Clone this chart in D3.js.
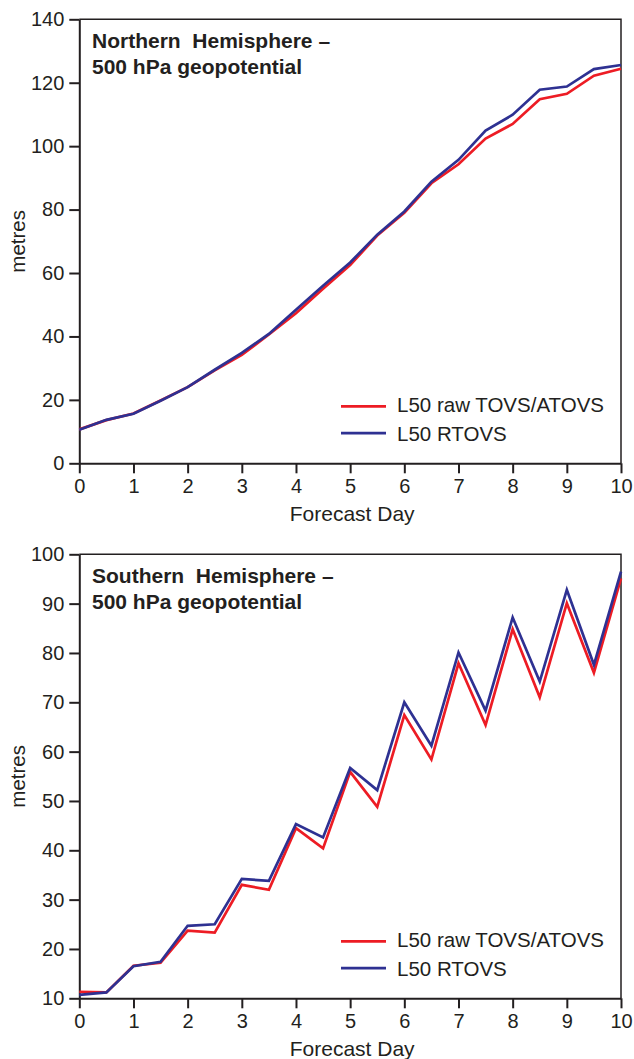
<!DOCTYPE html>
<html>
<head>
<meta charset="utf-8">
<script src="https://cdnjs.cloudflare.com/ajax/libs/d3/7.8.5/d3.min.js"></script>
<style>
  html, body { margin: 0; padding: 0; background: #fff; }
  svg { display: block; font-family: "Liberation Sans", Arial, Helvetica, sans-serif; }
  .axis text { font-size: 20px; fill: #231f20; }
  .axis path, .axis line { stroke: #231f20; stroke-width: 2px; }
  .title { white-space: pre; }
</style>
</head>
<body>
<svg id="chart" width="634" height="1059"></svg>
<script>
// forecast days, every 12 hours
var days = [0, 0.5, 1, 1.5, 2, 2.5, 3, 3.5, 4, 4.5, 5, 5.5, 6, 6.5, 7, 7.5, 8, 8.5, 9, 9.5, 10];
var dayTicks = [0, 1, 2, 3, 4, 5, 6, 7, 8, 9, 10];

// Northern Hemisphere 500 hPa geopotential (metres)
var nhRaw   = [10.7, 13.6, 15.7, 19.8, 24.0, 29.3, 34.2, 40.6, 47.3, 55.0, 62.5, 71.8, 79.0, 88.3, 94.3, 102.4, 107.0, 114.8, 116.5, 122.2, 124.4];
var nhRtovs = [10.6, 13.7, 15.6, 19.7, 24.0, 29.5, 34.8, 40.8, 48.4, 56.0, 63.3, 72.1, 79.4, 88.8, 95.7, 104.9, 109.9, 117.8, 118.8, 124.3, 125.6];
var nhTicks = [0, 20, 40, 60, 80, 100, 120, 140];

// Southern Hemisphere 500 hPa geopotential (metres)
var shRaw   = [11.3, 11.2, 16.6, 17.2, 23.7, 23.3, 33.0, 32.0, 44.5, 40.4, 55.9, 48.8, 67.4, 58.4, 77.9, 65.4, 84.8, 71.0, 90.1, 76.0, 95.1];
var shRtovs = [10.7, 11.2, 16.5, 17.4, 24.7, 25.0, 34.2, 33.8, 45.3, 42.6, 56.7, 52.2, 70.0, 61.2, 80.1, 68.3, 87.2, 74.2, 92.8, 77.6, 96.5];
var shTicks = [10, 20, 30, 40, 50, 60, 70, 80, 90, 100];

var seriesNames = ['L50 raw TOVS/ATOVS', 'L50 RTOVS'];
var seriesColors = ['#ed1c24', '#2e3192'];

var svg = d3.select('#chart');
var left = 79.3, right = 621;

function drawPanel(top, bottom, yTicks, raw, rtovs, titleLines) {
    var g = svg.append('g');

    var x = d3.scaleLinear().domain([0, 10]).range([left, right]);
    var y = d3.scaleLinear().domain([yTicks[0], yTicks[yTicks.length - 1]]).range([bottom, top]);

    // frame (top and right sides)
    g.append('path')
        .attr('d', 'M' + left + ',' + top + 'H' + right + 'V' + bottom)
        .attr('fill', 'none')
        .attr('stroke', '#231f20')
        .attr('stroke-width', 1.5);

    g.append('g')
        .attr('class', 'axis')
        .attr('transform', 'translate(0,' + bottom + ')')
        .call(d3.axisBottom(x).tickValues(dayTicks).tickFormat(d3.format('d')).tickSize(10).tickSizeOuter(0).tickPadding(6));

    g.append('g')
        .attr('class', 'axis')
        .attr('transform', 'translate(' + left + ',0)')
        .call(d3.axisLeft(y).tickValues(yTicks).tickFormat(d3.format('d')).tickSize(10).tickSizeOuter(0).tickPadding(5));

    // axis titles
    g.append('text')
        .attr('x', (left + right) / 2 + 2)
        .attr('y', bottom + 58)
        .attr('text-anchor', 'middle')
        .attr('font-size', 21)
        .attr('fill', '#231f20')
        .text('Forecast Day');

    g.append('text')
        .attr('transform', 'translate(25,' + (top + bottom) / 2 + ') rotate(-90)')
        .attr('text-anchor', 'middle')
        .attr('font-size', 20.5)
        .attr('fill', '#231f20')
        .text('metres');

    // panel title
    g.append('text')
        .attr('class', 'title')
        .attr('x', 92)
        .attr('y', top + 28.5)
        .attr('font-size', 21)
        .attr('font-weight', 'bold')
        .attr('fill', '#231f20')
        .selectAll('tspan')
        .data(titleLines)
        .enter().append('tspan')
        .attr('x', 92)
        .attr('dy', function (d, i) { return i === 0 ? 0 : 26.5; })
        .text(function (d) { return d; });

    var line = d3.line()
        .x(function (d, i) { return x(days[i]); })
        .y(function (d) { return y(d); });

    [raw, rtovs].forEach(function (s, i) {
        g.append('path')
            .datum(s)
            .attr('d', line)
            .attr('fill', 'none')
            .attr('stroke', seriesColors[i])
            .attr('stroke-width', 2.7)
            .attr('stroke-linejoin', 'miter');
    });

    // legend
    var legend = g.selectAll('.legend-item')
        .data(seriesNames)
        .enter().append('g')
        .attr('class', 'legend-item');

    legend.append('line')
        .attr('x1', 341).attr('x2', 386)
        .attr('y1', function (d, i) { return bottom - 57 + i * 26.8; })
        .attr('y2', function (d, i) { return bottom - 57 + i * 26.8; })
        .attr('stroke', function (d, i) { return seriesColors[i]; })
        .attr('stroke-width', 2.7);

    legend.append('text')
        .attr('x', 397)
        .attr('y', function (d, i) { return bottom - 51.3 + i * 29.2; })
        .attr('font-size', 20.5)
        .attr('fill', '#231f20')
        .text(function (d) { return d; });
}

drawPanel(19.3, 463.3, nhTicks, nhRaw, nhRtovs, ['Northern  Hemisphere \u2013', '500 hPa geopotential']);
drawPanel(554.3, 998.3, shTicks, shRaw, shRtovs, ['Southern  Hemisphere \u2013', '500 hPa geopotential']);
</script>
</body>
</html>
